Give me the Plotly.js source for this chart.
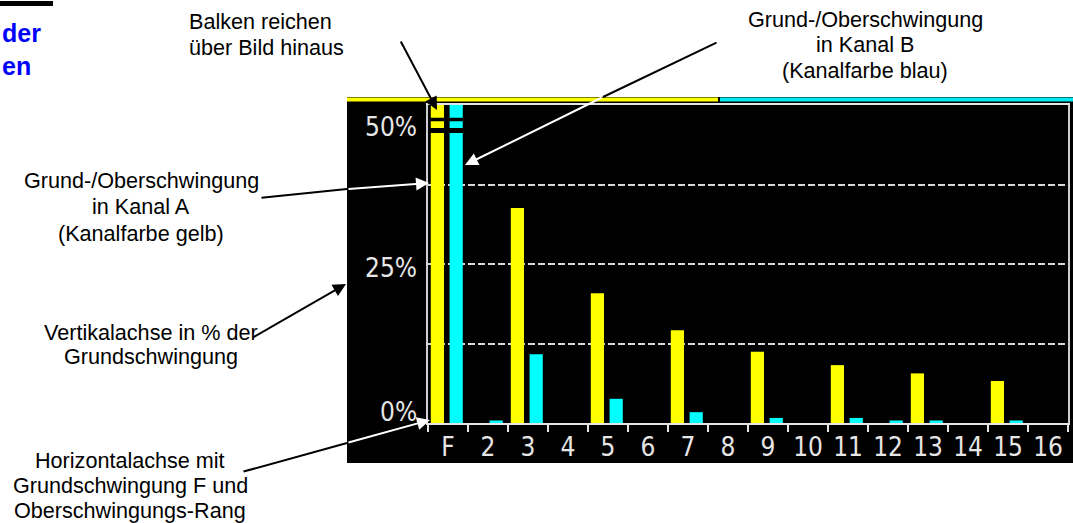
<!DOCTYPE html>
<html>
<head>
<meta charset="utf-8">
<script src="https://cdn.plot.ly/plotly-3.0.1.min.js"></script>
<style>
html,body{margin:0;padding:0;background:#ffffff;}
#chart{width:1073px;height:523px;}
</style>
</head>
<body>
<div id="chart"></div>
<script>
// ---- data ----
const categories = ['F','2','3','4','5','6','7','8','9','10','11','12','13','14','15','16'];
const channelA = [100, 0, 33.8, 0, 20.4, 0, 14.6, 0, 11.2, 0, 9.1, 0, 7.8, 0, 6.6, 0];   // Kanal A (gelb), % of fundamental
const channelB = [100, 0.4, 10.8, 0, 3.8, 0, 1.7, 0, 0.8, 0, 0.8, 0.4, 0.4, 0, 0.4, 0];  // Kanal B (blau), % of fundamental
const yLabelVals = [0, 25, 50];
const yLabelText = ['0%', '25%', '50%'];
const yGridVals = [12.5, 25, 37.5];
const breakBands = [[47.45, 48.0], [45.6, 46.4]];   // break marks on bars exceeding the display

// ---- geometry helpers (page pixels -> paper) ----
const PW = 1073, PH = 523;
const M = {l: 428, r: 5, t: 105, b: 100};
const W = PW - M.l - M.r, H = PH - M.t - M.b;
const px = x => (x - M.l) / W;
const py = y => (PH - M.b - y) / H;

const lcdFont = {family: '"Liberation Sans Narrow", "DejaVu Sans Condensed", sans-serif', size: 26, color: '#e6e6e6'};
const noteFont = {family: '"Liberation Sans", Arial, sans-serif', size: 21.6, color: '#000000'};

const traces = [
  {type: 'bar', name: 'Kanal A', x: categories, y: channelA, width: 0.33, offset: -0.43,
   marker: {color: '#ffff00', line: {width: 0}}, hoverinfo: 'skip', showlegend: false},
  {type: 'bar', name: 'Kanal B', x: categories, y: channelB, width: 0.33, offset: 0.04,
   marker: {color: '#00ffff', line: {width: 0}}, hoverinfo: 'skip', showlegend: false}
];

const shapes = [
  // instrument screen
  {type: 'rect', xref: 'paper', yref: 'paper', x0: px(347), x1: px(1073), y0: py(463), y1: py(97),
   fillcolor: '#000000', line: {width: 0}, layer: 'below'},
  {type: 'rect', xref: 'paper', yref: 'paper', x0: px(347), x1: px(718), y0: py(101.5), y1: py(97.5),
   fillcolor: '#ffff00', line: {width: 0}, layer: 'below'},
  {type: 'rect', xref: 'paper', yref: 'paper', x0: px(720), x1: px(1073), y0: py(101.5), y1: py(97.5),
   fillcolor: '#00e8f0', line: {width: 0}, layer: 'below'},
  // heading rule top-left
  {type: 'rect', xref: 'paper', yref: 'paper', x0: px(0), x1: px(53), y0: py(6), y1: py(1),
   fillcolor: '#000000', line: {width: 0}}
];
breakBands.forEach(b => shapes.push({type: 'rect', xref: 'x', yref: 'y', x0: -0.46, x1: 0.46, y0: b[0], y1: b[1],
  fillcolor: '#000000', line: {width: 0}, layer: 'above'}));

const annotations = [];
// y labels of the instrument display
yLabelVals.forEach((v, i) => {
  const shift = [11, -4, -22][i];
  annotations.push({xref: 'paper', yref: 'y', x: px(419), y: v, yshift: shift, xanchor: 'right', yanchor: 'middle',
    text: yLabelText[i], showarrow: false, font: lcdFont});
});

function line(t, x, base, anchor) {
  annotations.push({xref: 'paper', yref: 'paper', x: px(x), y: py(base - 0.35 * noteFont.size),
    xanchor: anchor || 'center', yanchor: 'middle', text: t, showarrow: false, font: noteFont});
}
line('Balken reichen', 187, 29, 'left');
line('über Bild hinaus', 187, 55, 'left');
line('Grund-/Oberschwingung', 865, 27);
line('in Kanal B', 865, 52);
line('(Kanalfarbe blau)', 865, 78);
line('Grund-/Oberschwingung', 141, 188);
line('in Kanal A', 141, 214);
line('(Kanalfarbe gelb)', 141, 241);
line('Vertikalachse in % der', 151, 340);
line('Grundschwingung', 151, 364);
line('Horizontalachse mit', 130, 468);
line('Grundschwingung F und', 130, 493);
line('Oberschwingungs-Rang', 130, 518);

// blue heading fragment
annotations.push({xref: 'paper', yref: 'paper', x: px(0), y: py(42 - 9), xanchor: 'left', yanchor: 'middle',
  text: '<b>der</b>', showarrow: false, font: {family: '"Liberation Sans", Arial, sans-serif', size: 25, color: '#0000ff'}});
annotations.push({xref: 'paper', yref: 'paper', x: px(0), y: py(75 - 9), xanchor: 'left', yanchor: 'middle',
  text: '<b>en</b>', showarrow: false, font: {family: '"Liberation Sans", Arial, sans-serif', size: 25, color: '#0000ff'}});

function arrow(tail, tip, color, head) {
  annotations.push({xref: 'paper', yref: 'paper', x: px(tip[0]), y: py(tip[1]), ax: tail[0] - tip[0], ay: tail[1] - tip[1],
    text: '', showarrow: true, arrowhead: head ? 2 : 0, arrowsize: 1.3, arrowwidth: 2, arrowcolor: color, standoff: 0, startstandoff: 0});
}
arrow([400, 40], [437, 110], '#000000', true);
arrow([718, 42], [603, 97], '#000000', false);
arrow([603, 97], [465, 165], '#ffffff', true);
arrow([260, 198], [347, 189], '#000000', false);
arrow([347, 189], [429, 183], '#ffffff', true);
arrow([252, 338], [346, 284], '#000000', true);
arrow([242, 472], [347, 443], '#000000', false);
arrow([347, 443], [430, 420], '#ffffff', true);

const layout = {
  width: PW, height: PH,
  margin: M,
  paper_bgcolor: '#ffffff',
  plot_bgcolor: '#000000',
  barmode: 'overlay',
  showlegend: false,
  font: {family: '"Liberation Sans", Arial, sans-serif'},
  xaxis: {
    type: 'category', categoryorder: 'array', categoryarray: categories, range: [-0.5, 15.5],
    tickson: 'boundaries', ticks: 'outside', ticklen: 7, tickwidth: 2, tickcolor: '#e6e6e6',
    tickfont: lcdFont, showgrid: false, zeroline: false,
    showline: true, linecolor: '#e6e6e6', linewidth: 2, mirror: true, fixedrange: true
  },
  xaxis2: {
    overlaying: 'x', anchor: 'y', side: 'bottom', type: 'linear', range: [-0.5, 15.5],
    tickmode: 'linear', tick0: -0.5, dtick: 1, ticks: 'inside', ticklen: 6, tickwidth: 2, tickcolor: '#e6e6e6',
    showticklabels: false, showgrid: false, zeroline: false, showline: false, fixedrange: true
  },
  yaxis: {
    range: [0, 50], tickmode: 'array', tickvals: yGridVals, showticklabels: false, ticks: '',
    showgrid: true, gridcolor: '#d8d8d8', gridwidth: 2, griddash: '7px,3px',
    zeroline: false, showline: true, linecolor: '#cfcfcf', linewidth: 2, mirror: true, fixedrange: true
  },
  shapes: shapes,
  annotations: annotations
};

Plotly.newPlot('chart', traces, layout, {staticPlot: true, displayModeBar: false});
</script>
</body>
</html>
